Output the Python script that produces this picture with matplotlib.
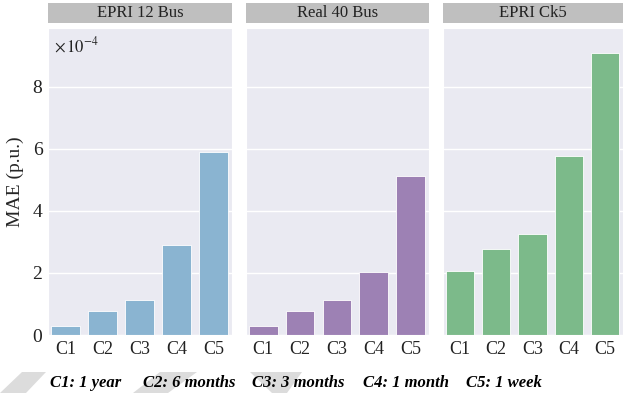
import numpy as np
import matplotlib.pyplot as plt
import seaborn as sns
from matplotlib.patches import Rectangle, Polygon

sns.set_style("darkgrid")
plt.rcParams['font.family'] = ['Liberation Serif', 'DejaVu Serif']
plt.rcParams['mathtext.fontset'] = 'stix'

# MAE per case (units of 1e-4 p.u.)
cases = ["C1", "C2", "C3", "C4", "C5"]
systems = ["EPRI 12 Bus", "Real 40 Bus", "EPRI Ck5"]
mae_12bus = [0.29, 0.77, 1.12, 2.90, 5.90]
mae_40bus = [0.29, 0.77, 1.12, 2.02, 5.13]
mae_ck5 = [2.07, 2.76, 3.26, 5.77, 9.10]
colors = ["#8ab4d1", "#9d81b4", "#7cba8a"]
legend_items = ["C1: 1 year", "C2: 6 months", "C3: 3 months", "C4: 1 month", "C5: 1 week"]

W, H = 623, 395
fig = plt.figure(figsize=(W / 100, H / 100), dpi=100)

# faint grey shapes along the bottom
for pts in [[(0, 393), (22, 372), (46, 372), (26, 393)],
            [(133, 393), (160, 372), (197, 372), (168, 393)],
            [(250, 372), (302, 372), (287, 393), (272, 393)]]:
    fig.patches.append(Polygon([(x / W, 1 - y / H) for x, y in pts],
                               closed=True, transform=fig.transFigure,
                               facecolor="#dcdcdc", edgecolor="none", zorder=0))

panels = [(48, 232), (246, 429), (443, 623)]
top, bottom = 28, 335
axes = []
for i, (vals, name, (x0, x1)) in enumerate(zip([mae_12bus, mae_40bus, mae_ck5], systems, panels)):
    ax = fig.add_axes([x0 / W, 1 - bottom / H, (x1 - x0) / W, (bottom - top) / H])
    x = np.arange(len(cases))
    ax.bar(x, vals, width=0.78, color=colors[i], edgecolor="white", linewidth=0.6)
    ax.set_xlim(-0.47, 4.5)
    ax.set_ylim(0, 9.9)
    ax.set_yticks([0, 2, 4, 6, 8])
    ax.set_xticks(x)
    ax.set_xticklabels(cases, fontsize=13)
    ax.grid(axis="x", visible=False)
    ax.grid(axis="y", color="white", linewidth=1.0)
    ax.tick_params(axis="both", length=0, pad=4, labelcolor="#222222")
    if i == 0:
        ax.set_yticklabels([0, 2, 4, 6, 8], fontsize=14)
        ax.set_ylabel("MAE (p.u.)", fontsize=14, labelpad=6)
        ax.text(0.03, 0.975, r"$\times\,10^{-4}$", transform=ax.transAxes,
                fontsize=12, va="top", ha="left", color="#222222")
    else:
        ax.set_yticklabels([])
    # grey strip header
    sh0 = (bottom - 23) / (bottom - top)
    sh1 = (bottom - 3) / (bottom - top)
    ax.add_patch(Rectangle((0, sh0), 1, sh1 - sh0, transform=ax.transAxes,
                           facecolor="#bfbfbf", edgecolor="none", clip_on=False))
    ax.text(0.5, (sh0 + sh1) / 2, name, transform=ax.transAxes, ha="center",
            va="center", fontsize=12, color="#222222")
    axes.append(ax)

# case legend below the panels
for label, xp in zip(legend_items, [50, 143, 252, 363, 466]):
    fig.text(xp / W, 1 - 383 / H, label, fontsize=12, fontweight="bold",
             fontstyle="italic", va="center", ha="left", color="black")

fig.savefig("out.png", dpi=100)
